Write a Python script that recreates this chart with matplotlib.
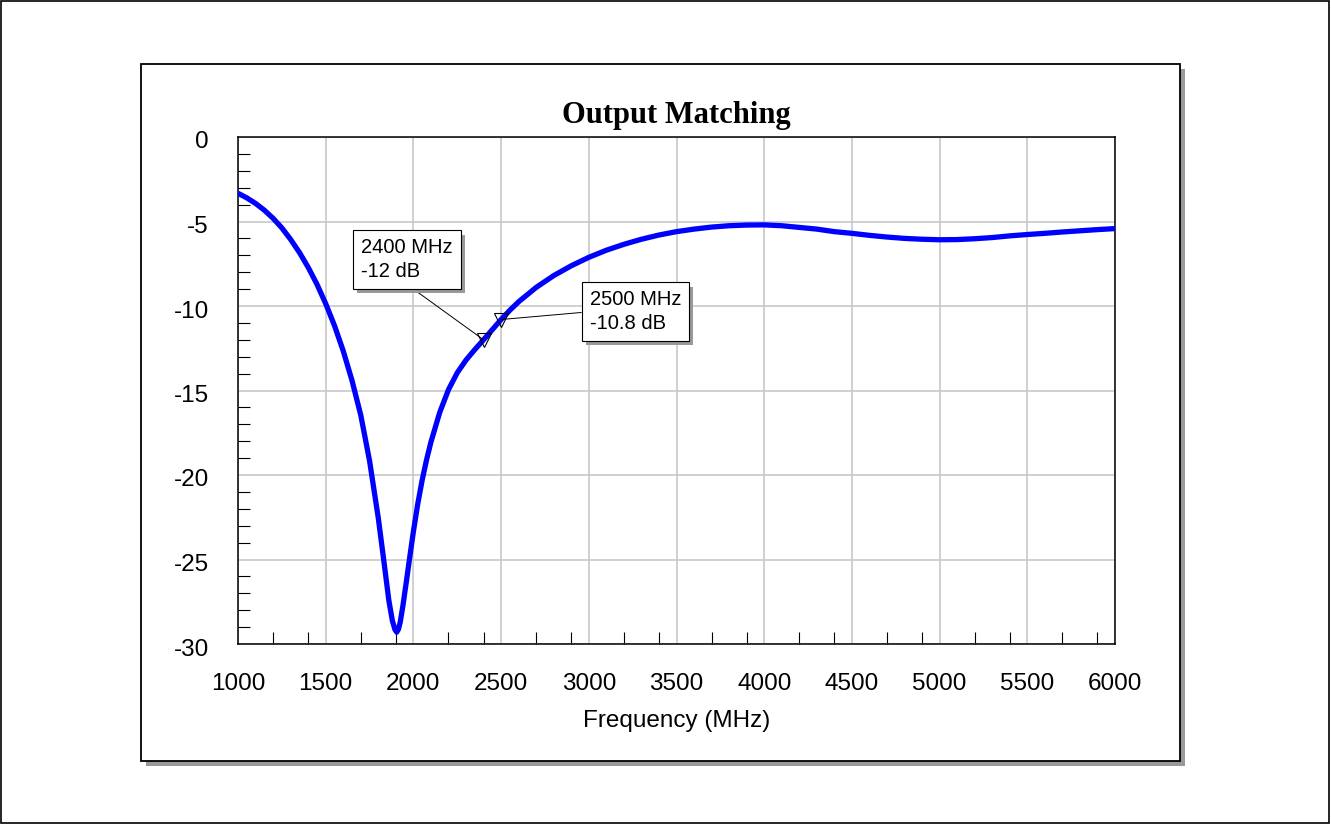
#!/usr/bin/env python3

import matplotlib
matplotlib.use("Agg")
import matplotlib.pyplot as plt
import matplotlib.patheffects as pe
from matplotlib.patches import Rectangle
from matplotlib.transforms import ScaledTranslation

freq = [1000, 1050, 1100, 1150, 1200, 1250, 1300, 1350, 1400, 1450,
        1500, 1550, 1600, 1650, 1700, 1750, 1800, 1830, 1860, 1880,
        1895, 1905, 1915, 1925, 1940, 1960, 1980, 2000, 2025, 2050,
        2075, 2100, 2150, 2200, 2250, 2300, 2350, 2400, 2450, 2500,
        2550, 2600, 2700, 2800, 2900, 3000, 3100, 3200, 3300, 3400,
        3500, 3600, 3700, 3800, 3900, 4000, 4100, 4200, 4300, 4400,
        4500, 4600, 4700, 4800, 4900, 5000, 5100, 5200, 5300, 5400,
        5500, 5600, 5700, 5800, 5900, 6000]
s22_db = [-3.33, -3.6, -3.93, -4.33, -4.81, -5.38, -6.06, -6.83, -7.71, -8.71,
          -9.86, -11.16, -12.66, -14.41, -16.46, -19.16, -22.56, -24.96, -27.42, -28.62,
          -29.15, -29.3, -29.12, -28.7, -27.75, -26.3, -24.8, -23.35, -21.7, -20.3,
          -19.1, -18.05, -16.3, -14.95, -13.95, -13.2, -12.58, -12.0, -11.4, -10.8,
          -10.25, -9.75, -8.9, -8.2, -7.62, -7.12, -6.7, -6.35, -6.05, -5.8,
          -5.6, -5.45, -5.33, -5.25, -5.21, -5.2, -5.25, -5.35, -5.45, -5.6,
          -5.7, -5.82, -5.92, -6.0, -6.05, -6.08, -6.07, -6.02, -5.95, -5.85,
          -5.77, -5.7, -5.62, -5.55, -5.48, -5.42]

marker_freq = [2400, 2500]
marker_db = [-12.0, -10.8]
marker_text = ["2400 MHz\n-12 dB", "2500 MHz\n-10.8 dB"]

x_major = [1000, 1500, 2000, 2500, 3000, 3500, 4000, 4500, 5000, 5500, 6000]
y_major = [0, -5, -10, -15, -20, -25, -30]

W, H = 1331, 825


def fx(px):
    return px / W


def fy(py):
    return 1 - py / H


def main():
    plt.rcParams["font.family"] = ["Liberation Sans", "DejaVu Sans"]
    plt.rcParams["axes.unicode_minus"] = False

    fig = plt.figure(figsize=(W / 100, H / 100), dpi=100)
    fig.patch.set_facecolor("white")

    # outer frame of the image
    fig.patches.append(Rectangle((fx(1), fy(823)), fx(1329) - fx(1), fy(1) - fy(823),
                                 transform=fig.transFigure, fill=False,
                                 ec="black", lw=1.2, zorder=-3))
    # chart panel with drop shadow
    x0, x1, y0, y1 = 141, 1180, 64, 761
    fig.patches.append(Rectangle((fx(x0 + 5), fy(y1 + 5)), fx(x1) - fx(x0), fy(y0) - fy(y1),
                                 transform=fig.transFigure, fc="#999999",
                                 ec="none", zorder=-2))
    fig.patches.append(Rectangle((fx(x0), fy(y1)), fx(x1) - fx(x0), fy(y0) - fy(y1),
                                 transform=fig.transFigure, fc="white",
                                 ec="black", lw=1.3, zorder=-1))

    ax = fig.add_axes([fx(238), fy(644), fx(1115) - fx(238), fy(137) - fy(644)])
    ax.plot(freq, s22_db, color="#0000ff", lw=3.8, solid_joinstyle="round",
            solid_capstyle="round", zorder=3)

    ax.set_xlim(1000, 6000)
    ax.set_ylim(-30, 0)
    ax.set_xticks(x_major)
    ax.set_yticks(y_major)
    # small inward ticks between the grid lines
    ax.set_xticks([b + d for b in x_major[:-1] for d in (200, 400)], minor=True)
    ax.set_yticks([v for v in range(-29, 0) if v % 5], minor=True)

    ax.grid(True, which="major", color="#c8c8c8", lw=1.2)
    ax.set_axisbelow(True)
    ax.tick_params(which="major", length=0, labelsize=17.5, pad=21)
    ax.tick_params(which="minor", direction="in", length=8.6, width=0.8,
                   color="black", top=False, right=False)
    for sp in ax.spines.values():
        sp.set_linewidth(1.1)

    shift = ScaledTranslation(0, -3 / 100, fig.dpi_scale_trans)
    for lab in ax.get_yticklabels():
        lab.set_transform(lab.get_transform() + shift)

    ax.set_title("Output Matching", family="Liberation Serif",
                 fontweight="bold", fontsize=22, pad=10)
    ax.set_xlabel("Frequency (MHz)", fontsize=17.5, labelpad=11)

    # marker call-outs
    ax.plot(marker_freq, marker_db, linestyle="none", marker="v", ms=10,
            mfc="none", mec="black", mew=0.8, zorder=4)
    box_xy = [(1962, -7.26), (3266, -10.34)]
    rel = [(0.45, 0.0), (0.0, 0.5)]
    for f, d, txt, xy, rp in zip(marker_freq, marker_db, marker_text, box_xy, rel):
        ann = ax.annotate(txt, xy=(f, d), xytext=xy, textcoords="data",
                          ha="center", va="center", multialignment="left",
                          fontsize=14.5, linespacing=1.3, zorder=5,
                          bbox=dict(boxstyle="square,pad=0.4", fc="white",
                                    ec="black", lw=0.8),
                          arrowprops=dict(arrowstyle="-", color="black", lw=0.7,
                                          relpos=rp, shrinkA=0, shrinkB=0))
        ann.get_bbox_patch().set_path_effects(
            [pe.SimplePatchShadow(offset=(3, -3), shadow_rgbFace="#999999", alpha=1.0),
             pe.Normal()])

    fig.savefig("out.png", dpi=100)


if __name__ == "__main__":
    main()
